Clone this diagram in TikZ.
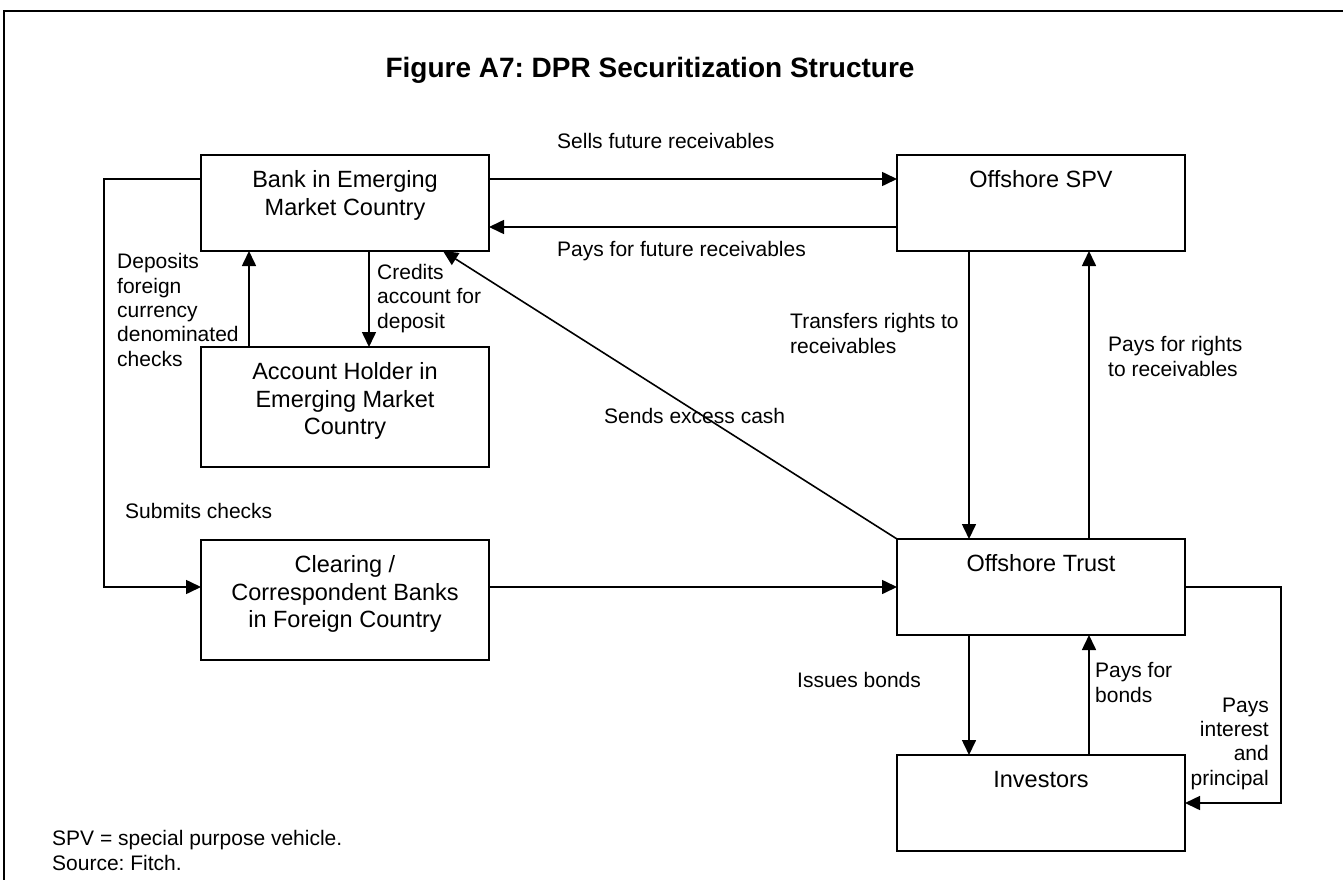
\documentclass[tikz,border=0pt]{standalone}
\usepackage{fontspec}
\setmainfont{Liberation Sans}
\frenchspacing
\usepackage{tikz}
\usetikzlibrary{
  arrows.meta,
  positioning,
}
\tikzset{
  >={Triangle[length=15pt,width=14pt]},
  entity/.style={rectangle,draw,line width=2,outer sep=0,minimum width=288,
    inner xsep=4,inner ysep=12.5,text height=20,text depth=51,
    font=\fontsize{23.5}{27.7}\selectfont,
    execute at begin node={\begin{minipage}[t]{280pt}\centering},
    execute at end node={\end{minipage}}},
  tallentity/.style={entity,text depth=75},
  note/.style={inner sep=0,align=left,font=\fontsize{21}{24.3}\selectfont},
  flow/.style={->,line width=1.6},
}

\begin{document}
\begin{tikzpicture}[x=1pt,y=-1pt,node distance=0pt and 0pt]
  \useasboundingbox (0,0) rectangle (1343,880);
  \draw[line width=2] (4,880) -- (4,11) -- (1343,11);

  \node[font=\fontsize{28}{32}\selectfont\bfseries,anchor=base] (title) at (650,78) {Figure A7: DPR Securitization Structure};

  \node[entity,anchor=north west] (bank) at (201,155) {Bank in Emerging\\Market Country};
  \node[entity] (spv) [right=408pt of bank] {Offshore SPV};
  \node[tallentity] (holder) [below=96pt of bank] {Account Holder in\\Emerging Market\\Country};
  \node[tallentity] (clearing) [below=73pt of holder] {Clearing /\\Correspondent Banks\\in Foreign Country};
  \node[entity] (trust) [below=288pt of spv] {Offshore Trust};
  \node[entity] (investors) [below=120pt of trust] {Investors};

  \draw[flow] ([yshift=-24]bank.north east) -- ([yshift=-24]spv.north west);
  \draw[flow] ([yshift=24]spv.south west) -- ([yshift=24]bank.south east);
  \draw[flow] ([xshift=168]bank.south west) -- ([xshift=168]holder.north west);
  \draw[flow] ([xshift=48]holder.north west) -- ([xshift=48]bank.south west);
  \draw[flow] ([yshift=-24]bank.north west) -- ++(-97,0) |- ([yshift=-47]clearing.north west);
  \draw[flow] ([yshift=-47]clearing.north east) -- (trust.west);
  \draw[flow] (trust.north west) -- ([xshift=242]bank.south west);
  \draw[flow] ([xshift=72]spv.south west) -- ([xshift=72]trust.north west);
  \draw[flow] ([xshift=192]trust.north west) -- ([xshift=192]spv.south west);
  \draw[flow] ([xshift=72]trust.south west) -- ([xshift=72]investors.north west);
  \draw[flow] ([xshift=192]investors.north west) -- ([xshift=192]trust.south west);
  \draw[flow] (trust.east) -- ++(96,0) |- (investors.east);

  % multi-line notes sit on the baseline of their last line
  \node[note,anchor=base west] (sells) at (557,148) {Sells future receivables};
  \node[note,anchor=base west] (paysfuture) at (557,256) {Pays for future receivables};
  \node[note,anchor=base west] (deposits) at (117,366) {Deposits\\foreign\\currency\\denominated\\checks};
  \node[note,anchor=base west] (credits) at (377,328) {Credits\\account for\\deposit};
  \node[note,anchor=base west] (excess) at (604,423) {Sends excess cash};
  \node[note,anchor=base west] (transfers) at (790,353) {Transfers rights to\\receivables};
  \node[note,anchor=base west] (paysrights) at (1108,376) {Pays for rights\\to receivables};
  \node[note,anchor=base west] (submits) at (125,518) {Submits checks};
  \node[note,anchor=base west] (issues) at (797,687) {Issues bonds};
  \node[note,anchor=base west] (paysbonds) at (1095,702) {Pays for\\bonds};
  \node[note,anchor=base east,align=right] (paysinterest) at (1269,785) {Pays\\interest\\and\\principal};
  \node[note,anchor=base west] (footer) at (52,870) {SPV = special purpose vehicle.\\Source: Fitch.};
\end{tikzpicture}
\end{document}
